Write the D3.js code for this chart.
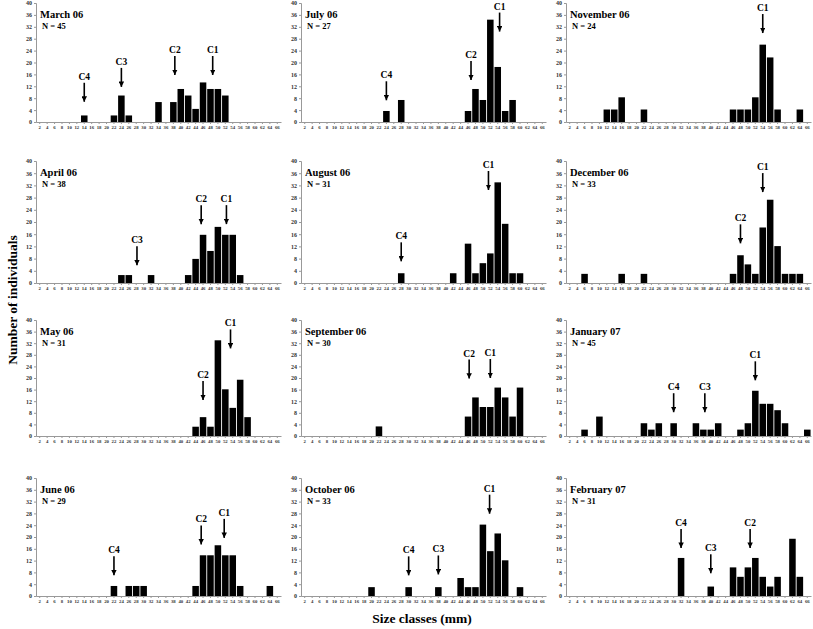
<!DOCTYPE html>
<html><head><meta charset="utf-8">
<script src="https://cdn.jsdelivr.net/npm/d3@7/dist/d3.min.js"></script>
<style>body{margin:0;background:#fff}svg{display:block}</style>
</head><body>
<script>
const sizeClasses = d3.range(2, 67, 2);
const yTicks = d3.range(0, 41, 4);

const march = [[14,2.2],[22,2.2],[24,8.9],[26,2.2],[34,6.7],[38,6.7],[40,11.1],[42,8.9],[44,4.4],[46,13.3],[48,11.1],[50,11.1],[52,8.9]];
const april = [[24,2.6],[26,2.6],[32,2.6],[42,2.6],[44,7.9],[46,15.8],[48,10.5],[50,18.4],[52,15.8],[54,15.8],[56,2.6]];
const may = [[44,3.2],[46,6.5],[48,3.2],[50,33],[52,16.1],[54,9.7],[56,19.4],[58,6.5]];
const june = [[22,3.4],[26,3.4],[28,3.4],[30,3.4],[44,3.4],[46,13.8],[48,13.8],[50,17.2],[52,13.8],[54,13.8],[56,3.4],[64,3.4]];
const july = [[24,3.7],[28,7.4],[46,3.7],[48,11.1],[50,7.4],[52,34.4],[54,18.5],[56,3.7],[58,7.4]];
const august = [[28,3.2],[42,3.2],[46,12.9],[48,3.2],[50,6.5],[52,9.7],[54,33],[56,19.4],[58,3.2],[60,3.2]];
const september = [[22,3.3],[46,6.7],[48,13.3],[50,10],[52,10],[54,16.7],[56,13.3],[58,6.7],[60,16.7]];
const october = [[20,3],[30,3],[38,3],[44,6.1],[46,3],[48,3],[50,24.2],[52,15.2],[54,21.2],[56,12.1],[60,3]];
const november = [[12,4.2],[14,4.2],[16,8.3],[22,4.2],[46,4.2],[48,4.2],[50,4.2],[52,8.3],[54,26],[56,21.7],[58,4.2],[64,4.2]];
const december = [[6,3],[16,3],[22,3],[46,3],[48,9.1],[50,6.1],[52,3],[54,18.2],[56,27.3],[58,12.1],[60,3],[62,3],[64,3]];
const january = [[6,2.2],[10,6.7],[22,4.4],[24,2.2],[26,4.4],[30,4.4],[36,4.4],[38,2.2],[40,2.2],[42,4.4],[48,2.2],[50,4.4],[52,15.6],[54,11.1],[56,11.1],[58,8.9],[60,4.4],[66,2.2]];
const february = [[32,12.9],[40,3.2],[46,9.7],[48,6.5],[50,9.7],[52,12.9],[54,6.5],[56,3.2],[58,6.5],[62,19.4],[64,6.5]];

// cohort arrows: [label, size position, arrow tip value]
const marchArrows = [["C4",14,6.8],["C3",24,11.8],["C2",38.4,15.8],["C1",48.6,15.8]];
const aprilArrows = [["C3",28.2,5.8],["C2",45.5,19.3],["C1",52.3,19.3]];
const mayArrows = [["C2",46,12.4],["C1",53.4,30.2]];
const juneArrows = [["C4",22,7],["C2",45.5,17.5],["C1",51.7,19.7]];
const julyArrows = [["C4",24,7.3],["C2",46.8,14.1],["C1",54.5,30.4]];
const augustArrows = [["C4",28,7.1],["C1",51.5,30.5]];
const septemberArrows = [["C2",46.3,19.8],["C1",52,20]];
const octoberArrows = [["C4",30,7],["C3",38,7.3],["C1",51.8,27.9]];
const novemberArrows = [["C1",54,29.9]];
const decemberArrows = [["C2",48,13],["C1",54,29.8]];
const januaryArrows = [["C4",30,8.2],["C3",38.4,8.2],["C1",52,19.2]];
const februaryArrows = [["C4",32,16.3],["C3",40,7.7],["C2",50.6,16.3]];

const titles = ["March 06","April 06","May 06","June 06","July 06","August 06","September 06","October 06","November 06","December 06","January 07","February 07"];
const nLabels = ["N = 45","N = 38","N = 31","N = 29","N = 27","N = 31","N = 30","N = 33","N = 24","N = 33","N = 45","N = 31"];
const seriesList = [march,april,may,june,july,august,september,october,november,december,january,february];
const arrowList = [marchArrows,aprilArrows,mayArrows,juneArrows,julyArrows,augustArrows,septemberArrows,octoberArrows,novemberArrows,decemberArrows,januaryArrows,februaryArrows];

const colX = [36, 301, 566];
const plotW = 245;
const rowZero = [122, 283, 436, 596];
const rowTop = [3, 161, 320, 478];
const serif = "'Liberation Serif','Times New Roman',serif";

const svg = d3.select("body").append("svg").attr("width",813).attr("height",629);
const defs = svg.append("defs");
defs.append("marker").attr("id","ah").attr("viewBox","0 0 10 10").attr("refX",10).attr("refY",5)
  .attr("markerWidth",3.4).attr("markerHeight",3.4).attr("orient","auto")
  .append("path").attr("d","M0,0 L10,5 L0,10 z").attr("fill","#000");

seriesList.forEach((data,i)=>{
  const c = Math.floor(i/4), r = i%4;
  const x0 = colX[c], zero = rowZero[r], top = rowTop[r];
  const x = d3.scaleBand().domain(sizeClasses).range([x0, x0+plotW]).paddingInner(0.12).paddingOuter(0.06);
  const xPos = d3.scaleLinear().domain([2,66]).range([x(2)+x.bandwidth()/2, x(66)+x.bandwidth()/2]);
  const y = d3.scaleLinear().domain([0,40]).range([zero, top]);
  const g = svg.append("g");

  const ya = g.append("g").attr("transform",`translate(${x0},0)`)
    .call(d3.axisLeft(y).tickValues(yTicks).tickSize(2).tickPadding(2));
  ya.select(".domain").attr("stroke","#999");
  ya.selectAll(".tick line").attr("stroke","#999");
  ya.selectAll("text").attr("font-family",serif).attr("font-size",6).attr("font-weight","bold").attr("fill","#333");

  const xa = g.append("g").attr("transform",`translate(0,${zero})`)
    .call(d3.axisBottom(x).tickSize(2).tickPadding(1.5).tickSizeOuter(0));
  xa.select(".domain").attr("stroke","#999");
  xa.selectAll(".tick line").attr("stroke","#999");
  xa.selectAll("text").attr("font-family",serif).attr("font-size",4.8).attr("font-weight","bold").attr("fill","#333");

  g.selectAll("rect.bar").data(data).join("rect").attr("class","bar")
    .attr("x",d=>x(d[0])).attr("width",x.bandwidth())
    .attr("y",d=>y(d[1])).attr("height",d=>zero-y(d[1])).attr("fill","#000");

  g.append("text").attr("x",x0+4).attr("y",top+14.5).text(titles[i])
    .attr("font-family",serif).attr("font-weight","bold").attr("font-size",10.5).attr("fill","#000");
  g.append("text").attr("x",x0+6).attr("y",top+26).text(nLabels[i])
    .attr("font-family",serif).attr("font-weight","bold").attr("font-size",8.5).attr("fill","#000");

  arrowList[i].forEach(a=>{
    const ax = xPos(a[1]), tip = y(a[2]);
    g.append("line").attr("x1",ax).attr("x2",ax).attr("y1",tip-19).attr("y2",tip)
      .attr("stroke","#000").attr("stroke-width",1.6).attr("marker-end","url(#ah)");
    g.append("text").attr("x",ax).attr("y",tip-22).attr("text-anchor","middle").text(a[0])
      .attr("font-family",serif).attr("font-weight","bold").attr("font-size",9.5).attr("fill","#000");
  });
});

svg.append("text").attr("transform","translate(17,300) rotate(-90)").attr("text-anchor","middle")
  .text("Number of individuals").attr("font-family",serif).attr("font-weight","bold").attr("font-size",13.5);
svg.append("text").attr("x",422).attr("y",623).attr("text-anchor","middle")
  .text("Size classes (mm)").attr("font-family",serif).attr("font-weight","bold").attr("font-size",13.5);
</script>
</body></html>
